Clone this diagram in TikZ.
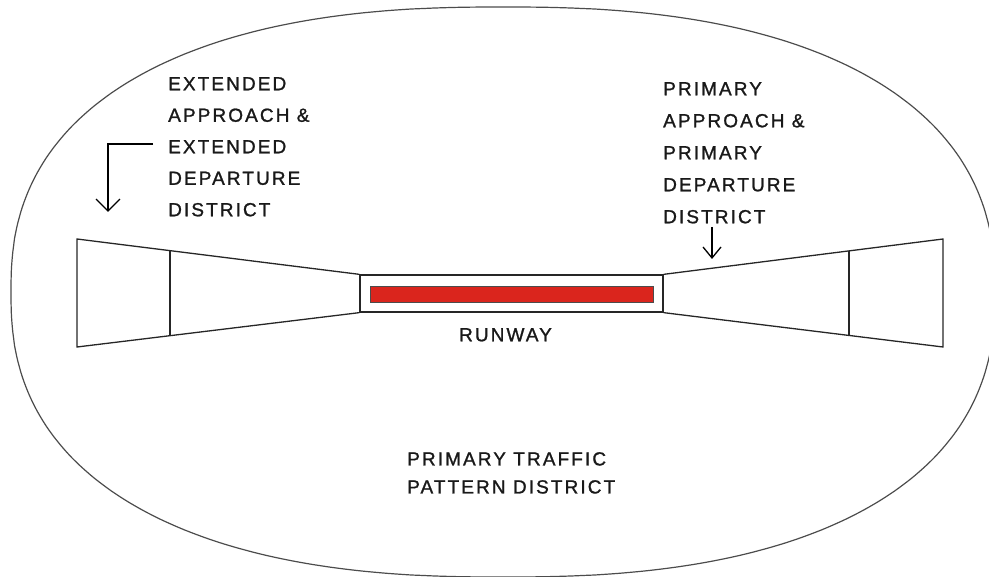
\documentclass[tikz,border=0pt]{standalone}
\usepackage{fontspec}
\setmainfont{Liberation Sans}[LetterSpace=11,FakeBold=1.2]
\usetikzlibrary{arrows.meta,calc}
\begin{document}
\begin{tikzpicture}[x=1pt,y=-1pt,
  lbl/.style={font=\fontsize{19}{31.5}\selectfont, align=left, inner sep=0pt, text=black!90},
  outline/.style={draw=black!85, line width=1.3pt},
  oval/.style={draw=black!70, line width=1.2pt},
  callout/.style={draw=black, line width=1.3pt, -{Straight Barb[length=11pt,width=18pt,line width=1.3pt]}},
  rwybox/.style={outline, fill=white, minimum width=303pt, minimum height=37pt, inner sep=0pt},
  redbar/.style={draw=black!70, line width=0.8pt, fill={rgb,255:red,218;green,37;blue,29}, minimum width=283pt, minimum height=16pt, inner sep=0pt}
]
\useasboundingbox (0,0) rectangle (989,577);
% district boundary (superellipse)
\draw[oval, smooth] plot[domain=0.5:359.5, samples=360, variable=\t]
  ({503+492*sign(cos(\t))*pow(abs(cos(\t)),0.8333)},
   {292+285*sign(sin(\t))*pow(abs(sin(\t)),0.8333)}) -- cycle;

% runway
\node[rwybox] (rwy) at (511.5,293.5) {};
\node[redbar] (bar) at (511.5,294) {};
\node[lbl, anchor=north] (rwylbl) at (505.5,328) {RUNWAY};

% left approach/departure zone
\coordinate (L1) at (77,239);
\coordinate (L2) at (77,347);
\draw[outline] (rwy.north west) -- (L1) -- (L2) -- (rwy.south west);
\draw[outline] ($(L1)!0.329!(rwy.north west)$) -- ($(L2)!0.329!(rwy.south west)$);

% right approach/departure zone
\coordinate (R1) at (943,239);
\coordinate (R2) at (943,347);
\draw[outline] (rwy.north east) -- (R1) -- (R2) -- (rwy.south east);
\draw[outline] ($(R1)!0.336!(rwy.north east)$) -- ($(R2)!0.336!(rwy.south east)$);

% labels
\node[lbl, anchor=north west] (ext) at (168,77) {EXTENDED\\APPROACH \&\\EXTENDED\\DEPARTURE\\DISTRICT};
\node[lbl, anchor=north west, font=\fontsize{19}{32}\selectfont] (prim) at (663,82) {PRIMARY\\APPROACH \&\\PRIMARY\\DEPARTURE\\DISTRICT};
\node[lbl, anchor=north west, font=\fontsize{19}{28}\selectfont] (tp) at (407,452) {PRIMARY TRAFFIC\\PATTERN DISTRICT};

% callout arrows
\coordinate (la0) at (153,144);
\coordinate (la1) at (108,144);
\coordinate (la2) at (108,212);
\draw[callout, -{Straight Barb[length=12pt,width=24pt,line width=1.3pt]}] (la0) -- (la1) -- (la2);
\coordinate (ra0) at (712,227);
\coordinate (ra1) at (712,259);
\draw[callout] (ra0) -- (ra1);
\end{tikzpicture}
\end{document}
